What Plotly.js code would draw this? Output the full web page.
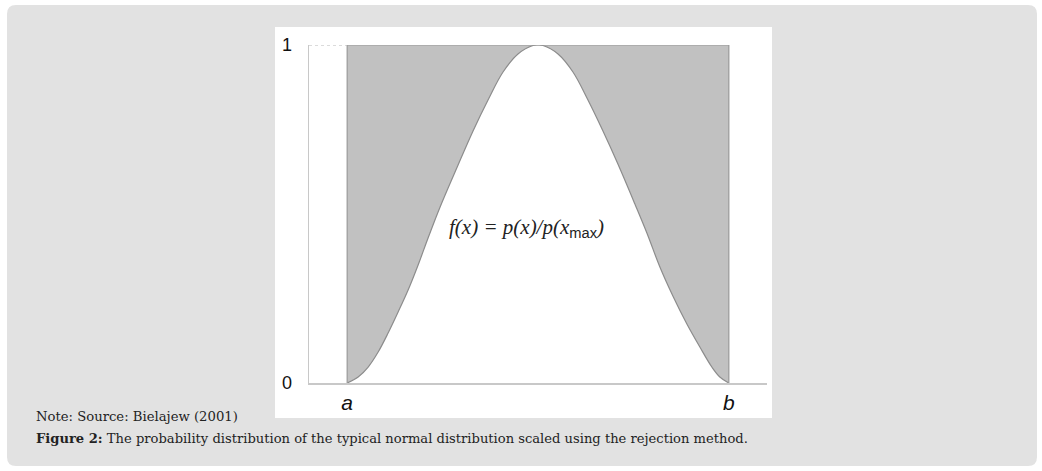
<!DOCTYPE html>
<html>
<head>
<meta charset="utf-8">
<script src="https://cdn.plot.ly/plotly-3.0.1.min.js"></script>
<style>html,body{margin:0;padding:0;background:#fff;}#chart{width:1042px;height:471px;}</style>
</head>
<body>
<div id="chart"></div>
<script>
// Data (x: a=0, b=1; y: scaled f(x) = p(x)/p(x_max))
const curveX = [0, 0.0288, 0.0550, 0.0812, 0.1073, 0.1335, 0.1597, 0.1859, 0.2120, 0.2435, 0.2906, 0.3298,
                0.3691, 0.4084, 0.4476, 0.4869, 0.5000,
                0.5131, 0.5524, 0.5916, 0.6309, 0.6702, 0.7094, 0.7539, 0.7853, 0.8194, 0.8534, 0.8901,
                0.9241, 0.9555, 0.9764, 1.0];
const curveY = [0, 0.0178, 0.0473, 0.0917, 0.1479, 0.2101, 0.2751, 0.3491, 0.4290, 0.5207, 0.6450, 0.7456,
                0.8373, 0.9201, 0.9734, 0.9985, 1.0,
                0.9985, 0.9734, 0.9201, 0.8373, 0.7456, 0.6479, 0.5296, 0.4438, 0.3432, 0.2574, 0.1746,
                0.1065, 0.0473, 0.0178, 0];
const boundA = 0, boundB = 1, fMax = 1;
const xTickVals = [0, 1];
const xTickText = ['<i>a</i>', '<i>b</i>'];
const yTickVals = [0, 1];
const yTickText = ['0', '1'];

const W = 1042, H = 471;
const px = v => v / W, py = v => 1 - v / H;

function roundRect(x0, y0, x1, y1, r) {
  const rx = r / W, ry = r / H;
  const X0 = px(x0), X1 = px(x1), Y0 = py(y0), Y1 = py(y1);
  return `M ${X0 + rx} ${Y0} L ${X1 - rx} ${Y0} Q ${X1} ${Y0} ${X1} ${Y0 - ry} L ${X1} ${Y1 + ry} Q ${X1} ${Y1} ${X1 - rx} ${Y1} L ${X0 + rx} ${Y1} Q ${X0} ${Y1} ${X0} ${Y1 + ry} L ${X0} ${Y0 - ry} Q ${X0} ${Y0} ${X0 + rx} ${Y0} Z`;
}

const traces = [
  { x: [boundA, boundB], y: [fMax, fMax], mode: 'lines', line: { width: 0 }, hoverinfo: 'skip', showlegend: false, cliponaxis: false },
  { x: curveX, y: curveY, mode: 'lines', fill: 'tonexty', fillcolor: '#c1c1c1',
    line: { color: '#8c8c8c', width: 1.2, shape: 'spline', smoothing: 1 }, hoverinfo: 'skip', showlegend: false, cliponaxis: false },
  { x: [boundA, boundA, boundB, boundB], y: [0, fMax, fMax, 0], mode: 'lines',
    line: { color: '#9a9a9a', width: 1.2 }, hoverinfo: 'skip', showlegend: false, cliponaxis: false },
  { x: [-0.1, boundA], y: [fMax, fMax], mode: 'lines',
    line: { color: '#b8b8b8', width: 1, dash: 'dot' }, hoverinfo: 'skip', showlegend: false, cliponaxis: false }
];

const layout = {
  width: W, height: H,
  margin: { l: 0, r: 0, t: 0, b: 0 },
  paper_bgcolor: '#ffffff', plot_bgcolor: 'rgba(0,0,0,0)',
  showlegend: false,
  xaxis: {
    domain: [px(309), px(767)], range: [-0.1, 1.1],
    showgrid: false, zeroline: false, showline: true, linecolor: '#c8c8c8', linewidth: 1.5,
    tickvals: xTickVals, ticktext: xTickText, ticks: '', ticklabelstandoff: 0,
    tickfont: { family: 'Liberation Sans, Arial, sans-serif', size: 21, color: '#111' }, fixedrange: true
  },
  yaxis: {
    domain: [1 - 383 / H, 1 - 45 / H], range: [0, 1],
    showgrid: false, zeroline: false, showline: true, linecolor: '#c8c8c8', linewidth: 1.5,
    tickvals: yTickVals, ticktext: yTickText, ticks: '', ticklabelstandoff: 12,
    tickfont: { family: 'Liberation Sans, Arial, sans-serif', size: 18, color: '#111' }, fixedrange: true
  },
  shapes: [
    { type: 'path', xref: 'paper', yref: 'paper', path: roundRect(7, 5, 1037, 466, 9), fillcolor: '#e2e2e2', line: { width: 0 }, layer: 'below' },
    { type: 'rect', xref: 'paper', yref: 'paper', x0: px(275), x1: px(772), y0: py(418), y1: py(27), fillcolor: '#ffffff', line: { width: 0 }, layer: 'below' }
  ],
  annotations: [
    { xref: 'x', yref: 'y', x: 0.469, y: 0.459, showarrow: false,
      text: '<i>f(x) = p(x)/p(x<sub><span style="font-family:Liberation Sans;font-style:normal">max</span></sub>)</i>',
      font: { family: 'Liberation Serif, Times New Roman, serif', size: 21, color: '#222' } },
    { xref: 'paper', yref: 'paper', x: px(34), y: py(416), xanchor: 'left', yanchor: 'middle', showarrow: false,
      text: 'Note: Source: Bielajew (2001)',
      font: { family: 'DejaVu Serif, serif', size: 13.2, color: '#222' } },
    { xref: 'paper', yref: 'paper', x: px(34), y: py(438), xanchor: 'left', yanchor: 'middle', showarrow: false,
      text: '<b>Figure 2:</b> The probability distribution of the typical normal distribution scaled using the rejection method.',
      font: { family: 'DejaVu Serif, serif', size: 13.1, color: '#222' } }
  ]
};

Plotly.newPlot('chart', traces, layout, { displayModeBar: false, staticPlot: true });
</script>
</body>
</html>
